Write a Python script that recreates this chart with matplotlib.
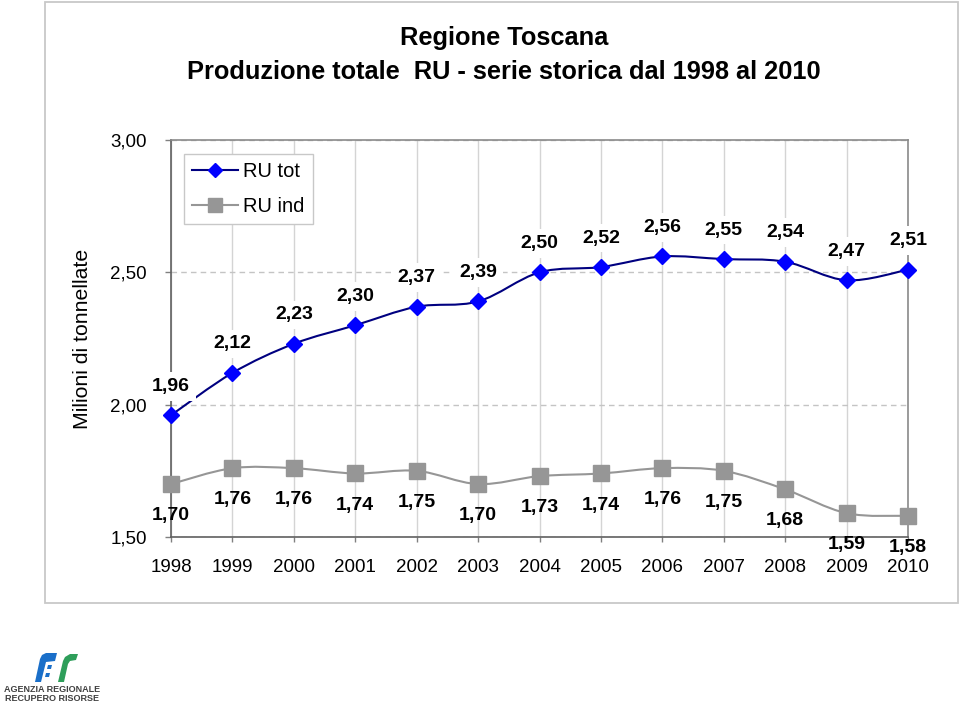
import matplotlib
matplotlib.use('Agg')
import matplotlib.pyplot as plt
import numpy as np
from matplotlib.path import Path
from matplotlib.patches import PathPatch, Rectangle, Polygon
from matplotlib.lines import Line2D

# ---------------- data ----------------
years = ['1998', '1999', '2000', '2001', '2002', '2003', '2004',
         '2005', '2006', '2007', '2008', '2009', '2010']
ru_tot = [1.96, 2.12, 2.23, 2.30, 2.37, 2.39, 2.50, 2.52, 2.56, 2.55, 2.54, 2.47, 2.51]
ru_ind = [1.70, 1.76, 1.76, 1.74, 1.75, 1.70, 1.73, 1.74, 1.76, 1.75, 1.68, 1.59, 1.58]
y_ticks = [1.50, 2.00, 2.50, 3.00]
series_names = ['RU tot', 'RU ind']
title_line1 = 'Regione Toscana'
title_line2 = 'Produzione totale  RU - serie storica dal 1998 al 2010'
y_label = 'Milioni di tonnellate'
logo_lines = ['AGENZIA REGIONALE', 'RECUPERO RISORSE']

plt.rcParams['font.family'] = ['Liberation Sans', 'DejaVu Sans']

W, H = 960, 707
fig = plt.figure(figsize=(W / 100, H / 100), dpi=100)
fig.patch.set_facecolor('white')

L, R, T, B = 171, 908, 140, 537
ax = fig.add_axes([L / W, 1 - B / H, (R - L) / W, (B - T) / H])
x = np.arange(len(years))
ax.set_xlim(0, len(years) - 1)
ax.set_ylim(y_ticks[0], y_ticks[-1])


def fmt(v):
    return f'{v:.2f}'.replace('.', ',')


def smooth_path(xs, ys):
    pts = np.column_stack([xs, ys]).astype(float)
    n = len(pts)
    verts = [pts[0]]
    codes = [Path.MOVETO]
    for i in range(n - 1):
        p0 = pts[i - 1] if i > 0 else pts[i]
        p1 = pts[i]
        p2 = pts[i + 1]
        p3 = pts[i + 2] if i + 2 < n else pts[i + 1]
        c1 = p1 + (p2 - p0) / 6.0
        c2 = p2 - (p3 - p1) / 6.0
        verts += [c1, c2, p2]
        codes += [Path.CURVE4] * 3
    return Path(verts, codes)


tot_line = '#000080'
tot_mark = '#0000ff'
ind_col = '#969696'

ax.add_patch(PathPatch(smooth_path(x, ru_tot), fill=False, ec=tot_line, lw=1.5, zorder=3))
ax.add_patch(PathPatch(smooth_path(x, ru_ind), fill=False, ec=ind_col, lw=1.5, zorder=3))
ax.plot(x, ru_tot, ls='none', marker='D', ms=8.5, mfc=tot_mark, mec=tot_mark, zorder=6, clip_on=False)
ax.plot(x, ru_ind, ls='none', marker='s', ms=11.5, mfc=ind_col, mec=ind_col, zorder=6, clip_on=False)

for i, v in enumerate(ru_tot):
    ax.annotate(fmt(v), (x[i], v), xytext=(0, 17.6), textcoords='offset points',
                ha='center', va='baseline', fontsize=14, fontweight='bold',
                bbox=dict(boxstyle='square,pad=0.3', fc='white', ec='none'),
                zorder=5, annotation_clip=False)
for i, v in enumerate(ru_ind):
    ax.annotate(fmt(v), (x[i], v), xytext=(0, -26), textcoords='offset points',
                ha='center', va='baseline', fontsize=14, fontweight='bold',
                zorder=5, annotation_clip=False)

# axes styling
ax.set_xticks(x)
ax.set_xticklabels(years)
ax.set_yticks(y_ticks)
ax.set_yticklabels([fmt(t) for t in y_ticks])
ax.set_axisbelow(True)
ax.grid(axis='x', color='#d4d4d4', lw=1.0)
ax.grid(axis='y', color='#c4c4c4', lw=1.0, ls=(0, (4, 3)))
ax.tick_params(axis='y', length=4.3, width=1, pad=13, labelsize=13.5, color='#808080')
ax.tick_params(axis='x', length=3.6, width=1, pad=12.5, labelsize=13.5, color='#808080')
for s in ['left', 'bottom']:
    ax.spines[s].set_color('#606060')
    ax.spines[s].set_linewidth(1.2)
for s in ['top', 'right']:
    ax.spines[s].set_color('#8a8a8a')
    ax.spines[s].set_linewidth(1.2)

ax.set_ylabel(y_label, fontsize=15.3)
ax.yaxis.label.set_va('center')
ax.yaxis.set_label_coords((82 - L) / (R - L), (B - 339) / (B - T))

h1 = Line2D([], [], color=tot_line, lw=1.5, marker='D', ms=7.3, mfc=tot_mark, mec=tot_mark)
h2 = Line2D([], [], color=ind_col, lw=1.5, marker='s', ms=10.5, mfc=ind_col, mec=ind_col)
leg = ax.legend([h1, h2], series_names, loc='upper left',
                bbox_to_anchor=((184 - L) / (R - L), (B - 154) / (B - T)),
                borderaxespad=0, frameon=True, fancybox=False, framealpha=1,
                edgecolor='#c8c8c8', fontsize=14.5, handlelength=2.3,
                handletextpad=0.25, labelspacing=0.78, borderpad=0.4)
leg.get_frame().set_linewidth(1.0)
leg.set_zorder(7)

# title
fig.text(504 / W, 1 - 45 / H, title_line1, ha='center', va='baseline',
         fontsize=18.3, fontweight='bold')
fig.text(504 / W, 1 - 79 / H, title_line2, ha='center', va='baseline',
         fontsize=18.3, fontweight='bold')

# outer chart frame
fig.add_artist(Rectangle((45 / W, 1 - 603 / H), (958 - 45) / W, (603 - 2) / H,
                         transform=fig.transFigure, fill=False, ec='#c8c8c8', lw=1.3))


# logo (graphic shapes in figure pixels, y measured from top)
def px(points):
    return [(px_x / W, 1 - px_y / H) for px_x, px_y in points]


blue = '#1a6fc9'
green = '#2e9e5a'
fig.add_artist(Polygon(px([(35, 682), (41, 682), (46, 662), (55, 661), (57, 653),
                           (46, 653), (42, 655), (40, 659)]),
                       closed=True, transform=fig.transFigure, fc=blue, ec='none'))
fig.add_artist(Polygon(px([(48, 665), (52, 665), (51, 669), (47, 669)]),
                       closed=True, transform=fig.transFigure, fc=blue, ec='none'))
fig.add_artist(Polygon(px([(46, 673), (50, 673), (49, 677), (45, 677)]),
                       closed=True, transform=fig.transFigure, fc=blue, ec='none'))
fig.add_artist(Polygon(px([(58, 682), (64, 682), (68, 664), (70, 661), (76, 660),
                           (78, 654), (70, 654), (65, 657), (63, 661)]),
                       closed=True, transform=fig.transFigure, fc=green, ec='none'))
fig.text(52 / W, 1 - 692 / H, logo_lines[0], ha='center', va='baseline',
         fontsize=6.5, fontweight='bold', color='#404040')
fig.text(52 / W, 1 - 701 / H, logo_lines[1], ha='center', va='baseline',
         fontsize=6.5, fontweight='bold', color='#404040')

fig.savefig('out.png', dpi=100)
